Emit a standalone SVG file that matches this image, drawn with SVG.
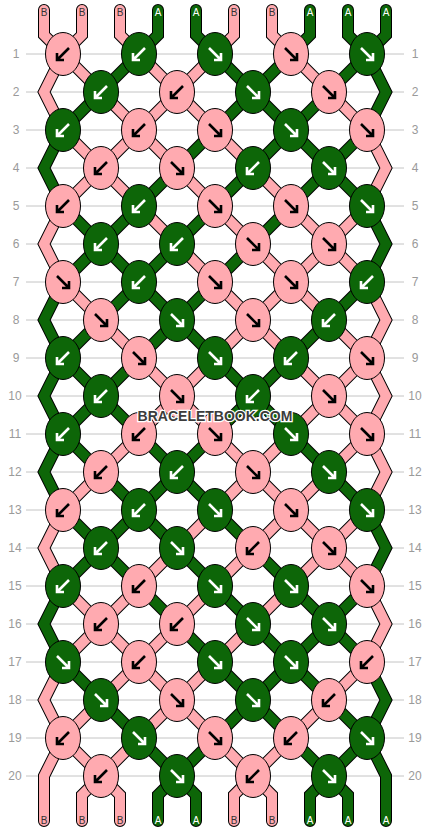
<svg xmlns="http://www.w3.org/2000/svg" xmlns:xlink="http://www.w3.org/1999/xlink" width="430" height="832" viewBox="0 0 430 832">
<style>
.grid line{stroke:#c4c4c4;stroke-width:1}
.num text{font-family:"Liberation Sans",Arial,sans-serif;font-size:12px;fill:#9a9a9a;text-anchor:middle}
.o{fill:none;stroke:#000;stroke-width:12;stroke-linecap:round;stroke-linejoin:miter}
.t{fill:none;stroke-width:10;stroke-linecap:round;stroke-linejoin:miter}
.tb{stroke:#ffaab0}
.ta{stroke:#0d6608}
.kp ellipse{fill:#ffaab0;stroke:#000;stroke-width:1}
.kg ellipse{fill:#0d6608;stroke:#000;stroke-width:1}
.kp use{stroke:#000}
.kg use{stroke:#fff}
.ar{fill:none;stroke-width:2.6;stroke-linecap:butt;stroke-linejoin:miter}
.lb text{font-family:"Liberation Sans",Arial,sans-serif;font-size:10px;text-anchor:middle}
.lb .b{fill:#333}
.lb .a{fill:#fff}
.wm{font-family:"Liberation Sans",Arial,sans-serif;font-weight:bold;font-size:14px;fill:#3c3c3c;stroke:#fff;stroke-width:2.5;paint-order:stroke;text-anchor:middle}
</style>
<defs>
<path id="L" class="ar" d="M6,-6L-5,5M-6,-1V6H1"/>
<path id="R" class="ar" d="M-6,-6L5,5M6,-1V6H-1"/>
<path id="t1" d="M44,10V35L63,54 101,92 139,130 177,168 215,206 253,244 291,282 329,320 367,358 386,396 367,434 329,472 291,510 253,548 215,586 177,624 139,662 101,700 63,738 44,776V821"/>
<path id="t2" d="M82,10V35L63,54 44,92 63,130 101,168 139,206 177,244 215,282 253,320 291,358 329,396 367,434 386,472 367,510 329,548 291,586 253,624 215,662 177,700 139,738 101,776 82,795V821"/>
<path id="t3" d="M120,10V35L139,54 177,92 215,130 253,168 291,206 329,244 367,282 386,320 367,358 329,396 291,434 253,472 215,510 177,548 139,586 101,624 63,662 44,700 63,738 101,776 120,795V821"/>
<path id="t4" d="M158,10V35L139,54 101,92 63,130 44,168 63,206 101,244 139,282 177,320 215,358 253,396 291,434 329,472 367,510 386,548 367,586 329,624 291,662 253,700 215,738 177,776 158,795V821"/>
<path id="t5" d="M196,10V35L215,54 253,92 291,130 329,168 367,206 386,244 367,282 329,320 291,358 253,396 215,434 177,472 139,510 101,548 63,586 44,624 63,662 101,700 139,738 177,776 196,795V821"/>
<path id="t6" d="M234,10V35L215,54 177,92 139,130 101,168 63,206 44,244 63,282 101,320 139,358 177,396 215,434 253,472 291,510 329,548 367,586 386,624 367,662 329,700 291,738 253,776 234,795V821"/>
<path id="t7" d="M272,10V35L291,54 329,92 367,130 386,168 367,206 329,244 291,282 253,320 215,358 177,396 139,434 101,472 63,510 44,548 63,586 101,624 139,662 177,700 215,738 253,776 272,795V821"/>
<path id="t8" d="M310,10V35L291,54 253,92 215,130 177,168 139,206 101,244 63,282 44,320 63,358 101,396 139,434 177,472 215,510 253,548 291,586 329,624 367,662 386,700 367,738 329,776 310,795V821"/>
<path id="t9" d="M348,10V35L367,54 386,92 367,130 329,168 291,206 253,244 215,282 177,320 139,358 101,396 63,434 44,472 63,510 101,548 139,586 177,624 215,662 253,700 291,738 329,776 348,795V821"/>
<path id="t10" d="M386,10V35L367,54 329,92 291,130 253,168 215,206 177,244 139,282 101,320 63,358 44,396 63,434 101,472 139,510 177,548 215,586 253,624 291,662 329,700 367,738 386,776V821"/>
</defs>
<rect width="430" height="832" fill="#fff"/>
<g class="grid">
<line x1="26" y1="54" x2="404" y2="54"/><line x1="26" y1="92" x2="404" y2="92"/><line x1="26" y1="130" x2="404" y2="130"/><line x1="26" y1="168" x2="404" y2="168"/><line x1="26" y1="206" x2="404" y2="206"/><line x1="26" y1="244" x2="404" y2="244"/><line x1="26" y1="282" x2="404" y2="282"/><line x1="26" y1="320" x2="404" y2="320"/><line x1="26" y1="358" x2="404" y2="358"/><line x1="26" y1="396" x2="404" y2="396"/><line x1="26" y1="434" x2="404" y2="434"/><line x1="26" y1="472" x2="404" y2="472"/><line x1="26" y1="510" x2="404" y2="510"/><line x1="26" y1="548" x2="404" y2="548"/><line x1="26" y1="586" x2="404" y2="586"/><line x1="26" y1="624" x2="404" y2="624"/><line x1="26" y1="662" x2="404" y2="662"/><line x1="26" y1="700" x2="404" y2="700"/><line x1="26" y1="738" x2="404" y2="738"/><line x1="26" y1="776" x2="404" y2="776"/>
</g>
<g class="num">
<text x="16" y="58">1</text><text x="415" y="58">1</text>
<text x="16" y="96">2</text><text x="415" y="96">2</text>
<text x="16" y="134">3</text><text x="415" y="134">3</text>
<text x="16" y="172">4</text><text x="415" y="172">4</text>
<text x="16" y="210">5</text><text x="415" y="210">5</text>
<text x="16" y="248">6</text><text x="415" y="248">6</text>
<text x="16" y="286">7</text><text x="415" y="286">7</text>
<text x="16" y="324">8</text><text x="415" y="324">8</text>
<text x="16" y="362">9</text><text x="415" y="362">9</text>
<text x="15" y="400">10</text><text x="415" y="400">10</text>
<text x="15" y="438">11</text><text x="415" y="438">11</text>
<text x="15" y="476">12</text><text x="415" y="476">12</text>
<text x="15" y="514">13</text><text x="415" y="514">13</text>
<text x="15" y="552">14</text><text x="415" y="552">14</text>
<text x="15" y="590">15</text><text x="415" y="590">15</text>
<text x="15" y="628">16</text><text x="415" y="628">16</text>
<text x="15" y="666">17</text><text x="415" y="666">17</text>
<text x="15" y="704">18</text><text x="415" y="704">18</text>
<text x="15" y="742">19</text><text x="415" y="742">19</text>
<text x="15" y="780">20</text><text x="415" y="780">20</text>
</g>
<g id="connectors">
<g id="outlines" class="o">
<use href="#t1"/><use href="#t2"/><use href="#t3"/><use href="#t4"/><use href="#t5"/><use href="#t6"/><use href="#t7"/><use href="#t8"/><use href="#t9"/><use href="#t10"/>
</g>
<g id="threads" class="t">
<use id="thread1" href="#t1" class="tb"/>
<use id="thread2" href="#t2" class="tb"/>
<use id="thread3" href="#t3" class="tb"/>
<use id="thread4" href="#t4" class="ta"/>
<use id="thread5" href="#t5" class="ta"/>
<use id="thread6" href="#t6" class="tb"/>
<use id="thread7" href="#t7" class="tb"/>
<use id="thread8" href="#t8" class="ta"/>
<use id="thread9" href="#t9" class="ta"/>
<use id="thread10" href="#t10" class="ta"/>
</g>
</g>
<g class="lb">
<text class="b" x="44" y="16">B</text><text class="b" x="82" y="16">B</text><text class="b" x="120" y="16">B</text><text class="a" x="158" y="16">A</text><text class="a" x="196" y="16">A</text><text class="b" x="234" y="16">B</text><text class="b" x="272" y="16">B</text><text class="a" x="310" y="16">A</text><text class="a" x="348" y="16">A</text><text class="a" x="386" y="16">A</text>
<text class="b" x="44" y="824">B</text><text class="b" x="82" y="824">B</text><text class="b" x="120" y="824">B</text><text class="a" x="158" y="824">A</text><text class="a" x="196" y="824">A</text><text class="b" x="234" y="824">B</text><text class="b" x="272" y="824">B</text><text class="a" x="310" y="824">A</text><text class="a" x="348" y="824">A</text><text class="a" x="386" y="824">A</text>
</g>
<g id="knots">
<g id="k1-1" class="kp"><ellipse cx="63" cy="54" rx="17.5" ry="21.5"/><use href="#L" x="63" y="54"/></g>
<g id="k1-2" class="kg"><ellipse cx="139" cy="54" rx="17.5" ry="21.5"/><use href="#L" x="139" y="54"/></g>
<g id="k1-3" class="kg"><ellipse cx="215" cy="54" rx="17.5" ry="21.5"/><use href="#R" x="215" y="54"/></g>
<g id="k1-4" class="kp"><ellipse cx="291" cy="54" rx="17.5" ry="21.5"/><use href="#R" x="291" y="54"/></g>
<g id="k1-5" class="kg"><ellipse cx="367" cy="54" rx="17.5" ry="21.5"/><use href="#R" x="367" y="54"/></g>
<g id="k2-1" class="kg"><ellipse cx="101" cy="92" rx="17.5" ry="21.5"/><use href="#L" x="101" y="92"/></g>
<g id="k2-2" class="kp"><ellipse cx="177" cy="92" rx="17.5" ry="21.5"/><use href="#L" x="177" y="92"/></g>
<g id="k2-3" class="kg"><ellipse cx="253" cy="92" rx="17.5" ry="21.5"/><use href="#R" x="253" y="92"/></g>
<g id="k2-4" class="kp"><ellipse cx="329" cy="92" rx="17.5" ry="21.5"/><use href="#R" x="329" y="92"/></g>
<g id="k3-1" class="kg"><ellipse cx="63" cy="130" rx="17.5" ry="21.5"/><use href="#L" x="63" y="130"/></g>
<g id="k3-2" class="kp"><ellipse cx="139" cy="130" rx="17.5" ry="21.5"/><use href="#L" x="139" y="130"/></g>
<g id="k3-3" class="kp"><ellipse cx="215" cy="130" rx="17.5" ry="21.5"/><use href="#R" x="215" y="130"/></g>
<g id="k3-4" class="kg"><ellipse cx="291" cy="130" rx="17.5" ry="21.5"/><use href="#R" x="291" y="130"/></g>
<g id="k3-5" class="kp"><ellipse cx="367" cy="130" rx="17.5" ry="21.5"/><use href="#R" x="367" y="130"/></g>
<g id="k4-1" class="kp"><ellipse cx="101" cy="168" rx="17.5" ry="21.5"/><use href="#L" x="101" y="168"/></g>
<g id="k4-2" class="kp"><ellipse cx="177" cy="168" rx="17.5" ry="21.5"/><use href="#R" x="177" y="168"/></g>
<g id="k4-3" class="kg"><ellipse cx="253" cy="168" rx="17.5" ry="21.5"/><use href="#L" x="253" y="168"/></g>
<g id="k4-4" class="kg"><ellipse cx="329" cy="168" rx="17.5" ry="21.5"/><use href="#R" x="329" y="168"/></g>
<g id="k5-1" class="kp"><ellipse cx="63" cy="206" rx="17.5" ry="21.5"/><use href="#L" x="63" y="206"/></g>
<g id="k5-2" class="kg"><ellipse cx="139" cy="206" rx="17.5" ry="21.5"/><use href="#L" x="139" y="206"/></g>
<g id="k5-3" class="kp"><ellipse cx="215" cy="206" rx="17.5" ry="21.5"/><use href="#R" x="215" y="206"/></g>
<g id="k5-4" class="kp"><ellipse cx="291" cy="206" rx="17.5" ry="21.5"/><use href="#R" x="291" y="206"/></g>
<g id="k5-5" class="kg"><ellipse cx="367" cy="206" rx="17.5" ry="21.5"/><use href="#R" x="367" y="206"/></g>
<g id="k6-1" class="kg"><ellipse cx="101" cy="244" rx="17.5" ry="21.5"/><use href="#L" x="101" y="244"/></g>
<g id="k6-2" class="kg"><ellipse cx="177" cy="244" rx="17.5" ry="21.5"/><use href="#L" x="177" y="244"/></g>
<g id="k6-3" class="kp"><ellipse cx="253" cy="244" rx="17.5" ry="21.5"/><use href="#R" x="253" y="244"/></g>
<g id="k6-4" class="kp"><ellipse cx="329" cy="244" rx="17.5" ry="21.5"/><use href="#R" x="329" y="244"/></g>
<g id="k7-1" class="kp"><ellipse cx="63" cy="282" rx="17.5" ry="21.5"/><use href="#R" x="63" y="282"/></g>
<g id="k7-2" class="kg"><ellipse cx="139" cy="282" rx="17.5" ry="21.5"/><use href="#L" x="139" y="282"/></g>
<g id="k7-3" class="kp"><ellipse cx="215" cy="282" rx="17.5" ry="21.5"/><use href="#R" x="215" y="282"/></g>
<g id="k7-4" class="kp"><ellipse cx="291" cy="282" rx="17.5" ry="21.5"/><use href="#R" x="291" y="282"/></g>
<g id="k7-5" class="kg"><ellipse cx="367" cy="282" rx="17.5" ry="21.5"/><use href="#L" x="367" y="282"/></g>
<g id="k8-1" class="kp"><ellipse cx="101" cy="320" rx="17.5" ry="21.5"/><use href="#R" x="101" y="320"/></g>
<g id="k8-2" class="kg"><ellipse cx="177" cy="320" rx="17.5" ry="21.5"/><use href="#R" x="177" y="320"/></g>
<g id="k8-3" class="kp"><ellipse cx="253" cy="320" rx="17.5" ry="21.5"/><use href="#R" x="253" y="320"/></g>
<g id="k8-4" class="kg"><ellipse cx="329" cy="320" rx="17.5" ry="21.5"/><use href="#L" x="329" y="320"/></g>
<g id="k9-1" class="kg"><ellipse cx="63" cy="358" rx="17.5" ry="21.5"/><use href="#L" x="63" y="358"/></g>
<g id="k9-2" class="kp"><ellipse cx="139" cy="358" rx="17.5" ry="21.5"/><use href="#R" x="139" y="358"/></g>
<g id="k9-3" class="kg"><ellipse cx="215" cy="358" rx="17.5" ry="21.5"/><use href="#R" x="215" y="358"/></g>
<g id="k9-4" class="kg"><ellipse cx="291" cy="358" rx="17.5" ry="21.5"/><use href="#L" x="291" y="358"/></g>
<g id="k9-5" class="kp"><ellipse cx="367" cy="358" rx="17.5" ry="21.5"/><use href="#R" x="367" y="358"/></g>
<g id="k10-1" class="kg"><ellipse cx="101" cy="396" rx="17.5" ry="21.5"/><use href="#L" x="101" y="396"/></g>
<g id="k10-2" class="kp"><ellipse cx="177" cy="396" rx="17.5" ry="21.5"/><use href="#R" x="177" y="396"/></g>
<g id="k10-3" class="kg"><ellipse cx="253" cy="396" rx="17.5" ry="21.5"/><use href="#L" x="253" y="396"/></g>
<g id="k10-4" class="kp"><ellipse cx="329" cy="396" rx="17.5" ry="21.5"/><use href="#R" x="329" y="396"/></g>
<g id="k11-1" class="kg"><ellipse cx="63" cy="434" rx="17.5" ry="21.5"/><use href="#L" x="63" y="434"/></g>
<g id="k11-2" class="kp"><ellipse cx="139" cy="434" rx="17.5" ry="21.5"/><use href="#L" x="139" y="434"/></g>
<g id="k11-3" class="kp"><ellipse cx="215" cy="434" rx="17.5" ry="21.5"/><use href="#R" x="215" y="434"/></g>
<g id="k11-4" class="kg"><ellipse cx="291" cy="434" rx="17.5" ry="21.5"/><use href="#R" x="291" y="434"/></g>
<g id="k11-5" class="kp"><ellipse cx="367" cy="434" rx="17.5" ry="21.5"/><use href="#R" x="367" y="434"/></g>
<g id="k12-1" class="kp"><ellipse cx="101" cy="472" rx="17.5" ry="21.5"/><use href="#L" x="101" y="472"/></g>
<g id="k12-2" class="kg"><ellipse cx="177" cy="472" rx="17.5" ry="21.5"/><use href="#L" x="177" y="472"/></g>
<g id="k12-3" class="kp"><ellipse cx="253" cy="472" rx="17.5" ry="21.5"/><use href="#R" x="253" y="472"/></g>
<g id="k12-4" class="kg"><ellipse cx="329" cy="472" rx="17.5" ry="21.5"/><use href="#R" x="329" y="472"/></g>
<g id="k13-1" class="kp"><ellipse cx="63" cy="510" rx="17.5" ry="21.5"/><use href="#L" x="63" y="510"/></g>
<g id="k13-2" class="kg"><ellipse cx="139" cy="510" rx="17.5" ry="21.5"/><use href="#L" x="139" y="510"/></g>
<g id="k13-3" class="kg"><ellipse cx="215" cy="510" rx="17.5" ry="21.5"/><use href="#R" x="215" y="510"/></g>
<g id="k13-4" class="kp"><ellipse cx="291" cy="510" rx="17.5" ry="21.5"/><use href="#R" x="291" y="510"/></g>
<g id="k13-5" class="kg"><ellipse cx="367" cy="510" rx="17.5" ry="21.5"/><use href="#R" x="367" y="510"/></g>
<g id="k14-1" class="kg"><ellipse cx="101" cy="548" rx="17.5" ry="21.5"/><use href="#L" x="101" y="548"/></g>
<g id="k14-2" class="kg"><ellipse cx="177" cy="548" rx="17.5" ry="21.5"/><use href="#R" x="177" y="548"/></g>
<g id="k14-3" class="kp"><ellipse cx="253" cy="548" rx="17.5" ry="21.5"/><use href="#L" x="253" y="548"/></g>
<g id="k14-4" class="kp"><ellipse cx="329" cy="548" rx="17.5" ry="21.5"/><use href="#R" x="329" y="548"/></g>
<g id="k15-1" class="kg"><ellipse cx="63" cy="586" rx="17.5" ry="21.5"/><use href="#L" x="63" y="586"/></g>
<g id="k15-2" class="kp"><ellipse cx="139" cy="586" rx="17.5" ry="21.5"/><use href="#L" x="139" y="586"/></g>
<g id="k15-3" class="kg"><ellipse cx="215" cy="586" rx="17.5" ry="21.5"/><use href="#R" x="215" y="586"/></g>
<g id="k15-4" class="kg"><ellipse cx="291" cy="586" rx="17.5" ry="21.5"/><use href="#R" x="291" y="586"/></g>
<g id="k15-5" class="kp"><ellipse cx="367" cy="586" rx="17.5" ry="21.5"/><use href="#R" x="367" y="586"/></g>
<g id="k16-1" class="kp"><ellipse cx="101" cy="624" rx="17.5" ry="21.5"/><use href="#L" x="101" y="624"/></g>
<g id="k16-2" class="kp"><ellipse cx="177" cy="624" rx="17.5" ry="21.5"/><use href="#L" x="177" y="624"/></g>
<g id="k16-3" class="kg"><ellipse cx="253" cy="624" rx="17.5" ry="21.5"/><use href="#R" x="253" y="624"/></g>
<g id="k16-4" class="kg"><ellipse cx="329" cy="624" rx="17.5" ry="21.5"/><use href="#R" x="329" y="624"/></g>
<g id="k17-1" class="kg"><ellipse cx="63" cy="662" rx="17.5" ry="21.5"/><use href="#R" x="63" y="662"/></g>
<g id="k17-2" class="kp"><ellipse cx="139" cy="662" rx="17.5" ry="21.5"/><use href="#L" x="139" y="662"/></g>
<g id="k17-3" class="kg"><ellipse cx="215" cy="662" rx="17.5" ry="21.5"/><use href="#R" x="215" y="662"/></g>
<g id="k17-4" class="kg"><ellipse cx="291" cy="662" rx="17.5" ry="21.5"/><use href="#R" x="291" y="662"/></g>
<g id="k17-5" class="kp"><ellipse cx="367" cy="662" rx="17.5" ry="21.5"/><use href="#L" x="367" y="662"/></g>
<g id="k18-1" class="kg"><ellipse cx="101" cy="700" rx="17.5" ry="21.5"/><use href="#R" x="101" y="700"/></g>
<g id="k18-2" class="kp"><ellipse cx="177" cy="700" rx="17.5" ry="21.5"/><use href="#R" x="177" y="700"/></g>
<g id="k18-3" class="kg"><ellipse cx="253" cy="700" rx="17.5" ry="21.5"/><use href="#R" x="253" y="700"/></g>
<g id="k18-4" class="kp"><ellipse cx="329" cy="700" rx="17.5" ry="21.5"/><use href="#L" x="329" y="700"/></g>
<g id="k19-1" class="kp"><ellipse cx="63" cy="738" rx="17.5" ry="21.5"/><use href="#L" x="63" y="738"/></g>
<g id="k19-2" class="kg"><ellipse cx="139" cy="738" rx="17.5" ry="21.5"/><use href="#R" x="139" y="738"/></g>
<g id="k19-3" class="kp"><ellipse cx="215" cy="738" rx="17.5" ry="21.5"/><use href="#R" x="215" y="738"/></g>
<g id="k19-4" class="kp"><ellipse cx="291" cy="738" rx="17.5" ry="21.5"/><use href="#L" x="291" y="738"/></g>
<g id="k19-5" class="kg"><ellipse cx="367" cy="738" rx="17.5" ry="21.5"/><use href="#R" x="367" y="738"/></g>
<g id="k20-1" class="kp"><ellipse cx="101" cy="776" rx="17.5" ry="21.5"/><use href="#L" x="101" y="776"/></g>
<g id="k20-2" class="kg"><ellipse cx="177" cy="776" rx="17.5" ry="21.5"/><use href="#R" x="177" y="776"/></g>
<g id="k20-3" class="kp"><ellipse cx="253" cy="776" rx="17.5" ry="21.5"/><use href="#L" x="253" y="776"/></g>
<g id="k20-4" class="kg"><ellipse cx="329" cy="776" rx="17.5" ry="21.5"/><use href="#R" x="329" y="776"/></g>
</g>
<text class="wm" x="215" y="421">BRACELETBOOK.COM</text>
</svg>
